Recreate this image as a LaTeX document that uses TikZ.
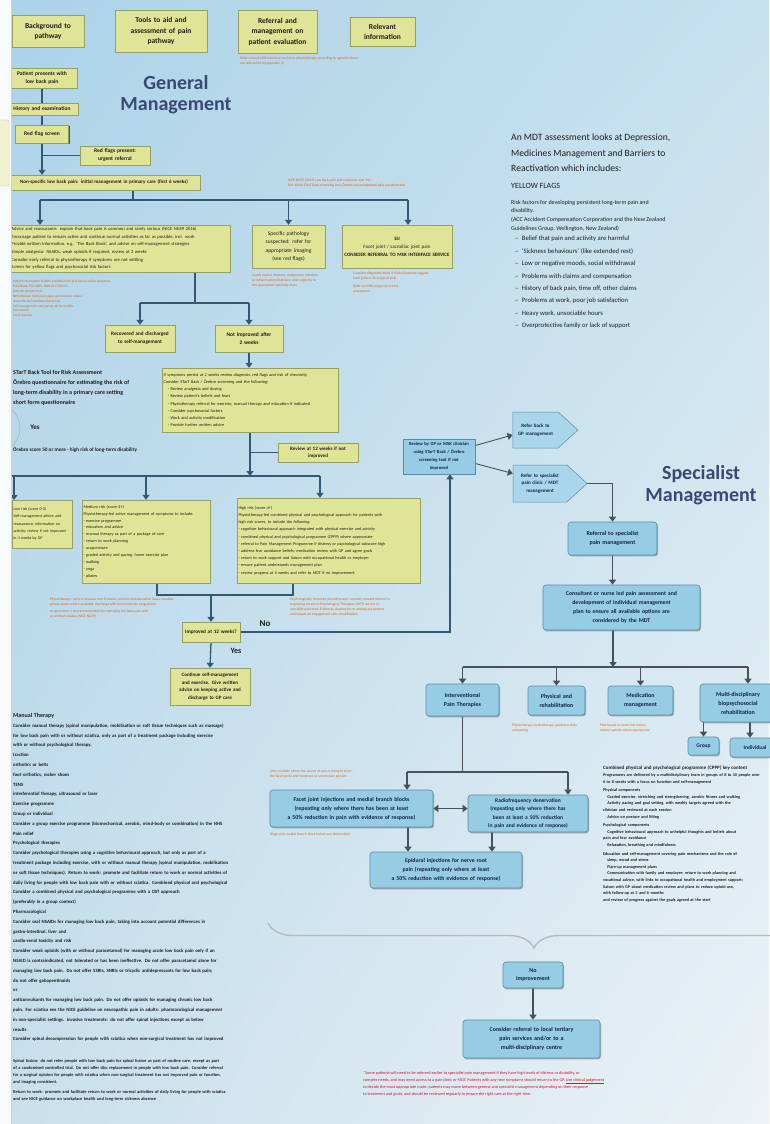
\documentclass[tikz,border=0pt]{standalone}
\usepackage{fontspec}
\setmainfont{Carlito}
\usetikzlibrary{arrows.meta,shadows,shadings,shapes.symbols,decorations.pathreplacing}

\pgfdeclarelayer{bg}
\pgfdeclarelayer{lines}
\pgfdeclarelayer{front}
\pgfsetlayers{bg,lines,main,front}

\definecolor{bgtl}{RGB}{172,210,232}
\definecolor{bgtr}{RGB}{198,225,238}
\definecolor{bgbl}{RGB}{200,224,237}
\definecolor{bgbr}{RGB}{236,242,246}
\definecolor{yfill}{RGB}{224,228,150}
\definecolor{yedge}{RGB}{150,160,95}
\definecolor{yshade}{RGB}{40,70,85}
\definecolor{bfill}{RGB}{150,204,228}
\definecolor{pfill}{RGB}{170,214,236}
\definecolor{bedge}{RGB}{90,140,165}
\definecolor{cgline}{RGB}{50,88,115}
\definecolor{csline}{RGB}{72,80,90}
\definecolor{titlec}{RGB}{58,72,118}
\definecolor{refc}{RGB}{222,100,20}
\definecolor{inkc}{RGB}{30,30,30}
\definecolor{navy}{RGB}{20,35,70}
\definecolor{redc}{RGB}{210,20,50}

\newcommand\fsz[2]{\fontsize{#1}{#2}\selectfont}

\tikzstyle{ybox} = [fill=yfill, draw=yedge, line width=0.4pt, inner sep=1.5pt, align=center, text=inkc,
    drop shadow={shadow xshift=1.4pt, shadow yshift=-1.4pt, fill=yshade, opacity=0.9}]
\tikzstyle{bbox} = [fill=bfill, draw=bedge, line width=0.6pt, rounded corners=3pt, inner sep=1.5pt, align=center, text=navy,
    drop shadow={shadow xshift=1pt, shadow yshift=-1.4pt, fill=black!60, opacity=0.5}]
\tikzstyle{arrowbox} = [shape=signal, signal to=east, signal pointer angle=85, fill=pfill, draw=bedge, line width=0.5pt,
    inner sep=1.5pt, align=center, text=navy]
\tikzstyle{gline} = [draw=cgline, line width=1.3pt]
\tikzstyle{garr} = [gline, -{Triangle[width=7pt,length=5pt]}]
\tikzstyle{sline} = [draw=csline, line width=1.3pt]
\tikzstyle{sarr} = [sline, -{Triangle[width=7pt,length=5pt]}]
\tikzstyle{refs} = [anchor=north west, inner sep=0pt, align=left, text=refc, font=\fsz{3.6}{5}]
\tikzstyle{bodytext} = [anchor=north west, inner sep=0pt, align=left, text=inkc]

\begin{document}
\begin{tikzpicture}[x=1pt,y=-1pt]
\useasboundingbox (0,0) rectangle (769,1124);
\begin{pgfonlayer}{bg}
\shade[upper left=bgtl, upper right=bgtr, lower left=bgbl, lower right=bgbr] (0,0) rectangle (769,1124);
\end{pgfonlayer}

% general management
\node[ybox, text width=69pt, minimum height=32pt, font=\fsz{7.5}{10}\bfseries] (bgpath) at (48,31) {Background to\\pathway};
\node[ybox, text width=89pt, minimum height=42pt, font=\fsz{7.5}{10.5}\bfseries] (tools) at (161,31) {Tools to aid and\\assessment of pain\\pathway};
\node[ybox, text width=76pt, minimum height=43pt, font=\fsz{7.5}{10.5}\bfseries] (refer) at (277.5,31.5) {Referral and\\management on\\patient evaluation};
\node[ybox, text width=62pt, minimum height=29pt, font=\fsz{7.5}{10}\bfseries] (relinfo) at (382.5,31.5) {Relevant\\information};
\node[refs] (refs1) at (240,57) {Refer to local MSK interface service or physiotherapy according to agreed criteria\\see referral form (appendix 2)};

\node[font=\fsz{20}{21}\bfseries, text=titlec, align=center] (gmtitle) at (176,95) {General\\Management};

\node[ybox, text width=67pt, minimum height=20pt, font=\fsz{5.5}{8}\bfseries] (pres) at (42,78) {Patient presents with\\low back pain};
\node[ybox, text width=69pt, minimum height=12pt, font=\fsz{5.5}{8}\bfseries] (hist) at (42,109) {History and examination};
\node[ybox, text width=50pt, minimum height=18pt, font=\fsz{5.5}{8}\bfseries] (redscr) at (42,134) {Red flag screen};
\node[ybox, text width=67pt, minimum height=19pt, font=\fsz{5.5}{8}\bfseries] (redpos) at (115,155.5) {Red flags present:\\urgent referral};
\node[ybox, text width=189pt, minimum height=15pt, font=\fsz{5}{7}\bfseries] (nslbp) at (104,182.5) {Non-specific low back pain: initial management in primary care (first 6 weeks)};
\node[refs] (refs2) at (288,179) {NICE NG59 (2016) Low back pain and sciatica in over 16s\\Ref: Keele STarT Back screening tool, Örebro musculoskeletal pain questionnaire};

\node[ybox, text width=217pt, minimum height=47pt, font=\fsz{4.6}{7.6}, align=left] (adv) at (120,248.5) {Advice and reassurance: explain that back pain is common and rarely serious (NICE NG59 2016)\\Encourage patient to remain active and continue normal activities as far as possible, incl. work\\Provide written information, e.g. `The Back Book', and advise on self-management strategies\\Simple analgesia: NSAIDs, weak opioids if required, review at 2 weeks\\Consider early referral to physiotherapy if symptoms are not settling\\Screen for yellow flags and psychosocial risk factors};
\node[refs, font=\fsz{3.4}{4.9}] (refs3) at (13,280) {Patient information leaflets available from practice or online resources\\Back Book, TSO 2002, ISBN 0117029491\\Arthritis Research UK\\NHS Choices: back pain pages and exercise videos\\www.nhs.uk/conditions/back-pain\\Self-management and pacing advice leaflets\\Pain toolkit\\Local exercise};
\node[ybox, text width=70pt, minimum height=43pt, font=\fsz{5.5}{8.5}] (spec) at (288.5,246.5) {Specific pathology\\suspected: refer for\\appropriate imaging\\(see red flags)};
\node[refs] (refs4) at (252,274) {Cauda equina, fracture, malignancy, infection\\or inflammatory disorders: refer urgently to\\the appropriate specialty team};
\node[ybox, text width=107pt, minimum height=43pt, font=\fsz{5}{8}] (sij) at (397,246.5) {\textbf{SIJ}\\Facet joint / sacroiliac joint pain\\\textbf{CONSIDER REFERRAL TO MSK INTERFACE SERVICE}};
\node[refs] (refs5) at (353,272) {Consider diagnostic block if clinical features suggest\\facet joint or SIJ origin of pain\\[3pt]Refer via MSK triage service for\\assessment};

\node[ybox, text width=67pt, minimum height=27pt, font=\fsz{5.2}{8}\bfseries] (rec) at (140,338.5) {Recovered and discharged\\to self-management};
\node[ybox, text width=65pt, minimum height=27pt, font=\fsz{5.5}{8}\bfseries] (notimp) at (249,338.5) {Not improved after\\2 weeks};
\node[ybox, text width=173pt, minimum height=64pt, font=\fsz{4.3}{7.2}, align=left] (six) at (250,400) {If symptoms persist at 2 weeks review diagnosis, red flags and risk of chronicity\\Consider STarT Back / Örebro screening and the following:\\\quad - Review analgesia and dosing\\\quad - Review patient's beliefs and fears\\\quad - Physiotherapy referral for exercise, manual therapy and education if indicated\\\quad - Consider psychosocial factors\\\quad - Work and activity modification\\\quad - Provide further written advice};
\node[ybox, text width=77pt, minimum height=19pt, font=\fsz{5}{7.5}\bfseries] (review12) at (318,452.5) {Review at 12 weeks if not\\improved};

\node[bodytext, font=\fsz{6}{10}\bfseries] (starttxt) at (13,370) {STarT Back Tool for Risk Assessment\\Örebro questionnaire for estimating the risk of\\long-term disability in a primary care setting\\short form questionnaire};
\node[font=\fsz{7}{8}\bfseries, text=inkc] (startyes) at (35,427) {Yes};
\node[bodytext, font=\fsz{5.2}{8}\bfseries] (startscore) at (13,447) {Örebro score 50 or more - high risk of long-term disability};

\node[ybox, text width=57pt, minimum height=48pt, font=\fsz{4}{7.4}, align=left] (low) at (42,524) {Low risk (score 0-3)\\Self-management advice and\\reassurance, information on\\activity; review if not improved\\in 4 weeks by GP};
\node[ybox, text width=125pt, minimum height=83pt, font=\fsz{4.2}{6.9}, align=left] (med) at (146,541.5) {Medium risk (score 4+)\\Physiotherapy-led active management of symptoms to include:\\- exercise programme\\- education and advice\\- manual therapy as part of a package of care\\- return to work planning\\- acupuncture\\- graded activity and pacing, home exercise plan\\- walking\\- yoga\\- pilates};
\node[ybox, text width=180pt, minimum height=85pt, font=\fsz{4.2}{7.2}, align=left] (high) at (328.5,540.5) {High risk (score 4+)\\Physiotherapy-led combined physical and psychological approach for patients with\\high risk scores, to include the following:\\- cognitive behavioural approach integrated with physical exercise and activity\\- combined physical and psychological programme (CPPP) where appropriate\\- referral to Pain Management Programme if distress or psychological subscore high\\- address fear avoidance beliefs; medication review with GP and agree goals\\- return to work support and liaison with occupational health or employer\\- ensure patient understands management plan\\- review progress at 6 weeks and refer to MDT if no improvement};
\node[refs] (refs6) at (50,598) {Physiotherapy: up to 6 sessions over 8 weeks, exercise and education focus, consider\\group classes where available, discharge with home exercise programme\\[2pt]Acupuncture is not recommended for managing low back pain with\\or without sciatica (NICE NG59)};
\node[refs] (refs7) at (290,598) {Psychologically informed physiotherapy: consider onward referral to\\Improving Access to Psychological Therapies (IAPT) service or\\specialist pain team if distress, depression or anxiety are present\\and impact on engagement with rehabilitation};

\node[ybox, text width=55pt, minimum height=20pt, font=\fsz{5.2}{7}\bfseries] (improved) at (211,632) {Improved at 12 weeks?};
\node[font=\fsz{9}{10}\bfseries, text=inkc] (nolab) at (265,624) {No};
\node[font=\fsz{8}{9}\bfseries, text=inkc] (yeslab) at (236,651) {Yes};
\node[ybox, text width=77pt, minimum height=37pt, font=\fsz{5}{7.5}\bfseries] (cont) at (210,686.5) {Continue self-management\\and exercise. Give written\\advice on keeping active and\\discharge to GP care};

\node[bodytext, text width=256pt, font=\fsz{4.8}{9.8}\bfseries] (manual) at (13,713) {{\fsz{6}{9.8}Manual Therapy}\\
Consider manual therapy (spinal manipulation, mobilisation or soft tissue techniques such as massage)\\
for low back pain with or without sciatica, only as part of a treatment package including exercise\\
with or without psychological therapy.\\
traction\\
orthotics or belts\\
foot orthotics, rocker shoes\\
TENS\\
interferential therapy, ultrasound or laser\\
Exercise programme\\
Group or individual\\
Consider a group exercise programme (biomechanical, aerobic, mind-body or combination) in the NHS\\
Pain relief\\
Psychological therapies\\
Consider psychological therapies using a cognitive behavioural approach, but only as part of a\\
treatment package including exercise, with or without manual therapy (spinal manipulation, mobilisation\\
or soft tissue techniques). Return to work: promote and facilitate return to work or normal activities of\\
daily living for people with low back pain with or without sciatica. Combined physical and psychological\\
Consider a combined physical and psychological programme with a CBT approach\\
(preferably in a group context)\\
Pharmacological\\
Consider oral NSAIDs for managing low back pain, taking into account potential differences in\\
gastro-intestinal, liver and\\
cardio-renal toxicity and risk\\
Consider weak opioids (with or without paracetamol) for managing acute low back pain only if an\\
NSAID is contraindicated, not tolerated or has been ineffective. Do not offer paracetamol alone for\\
managing low back pain. Do not offer SSRIs, SNRIs or tricyclic antidepressants for low back pain;\\
do not offer gabapentinoids\\
or\\
anticonvulsants for managing low back pain. Do not offer opioids for managing chronic low back\\
pain. For sciatica see the NICE guideline on neuropathic pain in adults: pharmacological management\\
in non-specialist settings. Invasive treatments: do not offer spinal injections except as below\\
results\\
Consider spinal decompression for people with sciatica when non-surgical treatment has not improved};
\node[bodytext, text width=256pt, font=\fsz{4.4}{7.2}\bfseries] (fusion) at (13,1059) {Spinal fusion: do not refer people with low back pain for spinal fusion as part of routine care, except as part\\
of a randomised controlled trial. Do not offer disc replacement in people with low back pain. Consider referral\\
for a surgical opinion for people with sciatica when non-surgical treatment has not improved pain or function,\\
and imaging consistent.\\[2pt]
Return to work: promote and facilitate return to work or normal activities of daily living for people with sciatica\\
and see NICE guidance on workplace health and long-term sickness absence};

% yellow flags
\node[bodytext, font=\fsz{9.6}{15.5}] (mdt) at (511,134) {An MDT assessment looks at Depression,\\Medicines Management and Barriers to\\Reactivation which includes:};
\node[bodytext, font=\fsz{8}{10}] (yflags) at (511,183) {YELLOW FLAGS};
\node[bodytext, font=\fsz{6}{8.5}] (riskf) at (511,200) {Risk factors for developing persistent long-term pain and\\disability.};
\node[bodytext, font=\fsz{6}{8.5}] (acc) at (511,217) {(ACC Accident Compensation Corporation and the New Zealand\\Guidelines Group, Wellington, New Zealand)};
\node[bodytext, font=\fsz{6.7}{12.4}] (flaglist) at (515,236) {--\enspace Belief that pain and activity are harmful\\--\enspace `Sickness behaviours' (like extended rest)\\--\enspace Low or negative moods, social withdrawal\\--\enspace Problems with claims and compensation\\--\enspace History of back pain, time off, other claims\\--\enspace Problems at work, poor job satisfaction\\--\enspace Heavy work, unsociable hours\\--\enspace Overprotective family or lack of support};

% specialist management
\node[font=\fsz{20}{22}\bfseries, text=titlec, align=center] (smtitle) at (701,485) {Specialist\\Management};
\node[bbox, sharp corners, text width=69pt, minimum height=35pt, font=\fsz{4.6}{8}\bfseries] (revgp) at (439,456.5) {Review by GP or MSK clinician\\using STarT Back / Örebro\\screening tool if not\\improved};
\node[arrowbox, text width=40pt, minimum width=65pt, minimum height=36pt, font=\fsz{5}{7.5}\bfseries] (pent1) at (535.5,430) {Refer back to\\GP management};
\node[arrowbox, text width=47pt, minimum width=74pt, minimum height=37pt, font=\fsz{5}{7.5}\bfseries] (pent2) at (540,483.5) {Refer to specialist\\pain clinic / MDT\\management};
\node[bbox, text width=86pt, minimum height=33pt, font=\fsz{6}{8.5}\bfseries] (specref) at (612.5,538.5) {Referral to specialist\\pain management};
\node[bbox, text width=154pt, minimum height=45pt, font=\fsz{5.8}{9}\bfseries] (cons) at (621.5,607.5) {Consultant or nurse led pain assessment and\\development of individual management\\plan to ensure all available options are\\considered by the MDT};
\node[bbox, text width=70pt, minimum height=32pt, font=\fsz{6}{9}\bfseries] (interv) at (462.5,700) {Interventional\\Pain Therapies};
\node[bbox, text width=54pt, minimum height=29pt, font=\fsz{6}{9}\bfseries] (physrehab) at (556.5,700.5) {Physical and\\rehabilitation};
\node[bbox, text width=62pt, minimum height=29pt, font=\fsz{6}{9}\bfseries] (medman) at (640.5,700.5) {Medication\\management};
\node[bbox, text width=73pt, minimum height=38pt, font=\fsz{6}{9}\bfseries] (mdr) at (738,703) {Multi-disciplinary\\biopsychosocial\\rehabilitation};
\node[bbox, text width=28pt, minimum height=18pt, font=\fsz{5.5}{7}\bfseries] (group) at (703.5,746) {Group};
\node[bbox, text width=47pt, minimum height=19pt, font=\fsz{5.5}{7}\bfseries] (indiv) at (755,747.5) {Individual};
\node[refs] (refs8) at (512,724) {Physiotherapy, hydrotherapy, graded activity\\and pacing};
\node[refs] (refs9) at (600,724) {Pharmacist or nurse-led review\\reduce opioids where appropriate};
\node[refs] (refs10) at (270,770) {Only consider where the source of pain is thought to be\\the facet joints and moderate or severe pain persists};
\node[bbox, text width=160pt, minimum height=37pt, font=\fsz{5.8}{9}\bfseries] (boxl) at (351.5,808.5) {Facet joint injections and medial branch blocks\\(repeating only where there has been at least\\a 50\% reduction in pain with evidence of response)};
\node[refs] (refs11) at (270,833) {Diagnostic medial branch block before any denervation};
\node[bbox, text width=117pt, minimum height=37pt, font=\fsz{5.5}{8.2}\bfseries] (boxr) at (528,813.5) {Radiofrequency denervation\\(repeating only where there has\\been at least a 50\% reduction\\in pain and evidence of response)};
\node[bbox, text width=149pt, minimum height=36pt, font=\fsz{5.8}{9}\bfseries] (boxb) at (446,870) {Epidural injections for nerve root\\pain (repeating only where at least\\a 50\% reduction with evidence of response)};

\node[bodytext, text width=175pt, font=\fsz{4.2}{6.6}\bfseries] (cppp) at (603,766) {{\fsz{5}{6.6}Combined physical and psychological programme (CPPP) key content}\\
Programmes are delivered by a multidisciplinary team in groups of 8 to 10 people over\\
6 to 8 weeks with a focus on function and self-management\\[2pt]
Physical components\\
\quad Graded exercise, stretching and strengthening, aerobic fitness and walking\\
\quad Activity pacing and goal setting, with weekly targets agreed with the\\
clinician and reviewed at each session\\
\quad Advice on posture and lifting\\[2pt]
Psychological components\\
\quad Cognitive behavioural approach to unhelpful thoughts and beliefs about\\
pain and fear avoidance\\
\quad Relaxation, breathing and mindfulness\\[2pt]
Education and self-management covering pain mechanisms and the role of\\
\quad sleep, mood and stress\\
\quad Flare-up management plans\\
\quad Communication with family and employer; return to work planning and\\
vocational advice, with links to occupational health and employment support;\\
liaison with GP about medication review and plans to reduce opioid use,\\
with follow-up at 3 and 6 months\\
and review of progress against the goals agreed at the start};

\draw[decorate, decoration={brace, mirror, amplitude=25pt}, draw=gray!55, line width=1.4pt] (268,923) -- (800,923);
\node[bbox, text width=57pt, minimum height=26pt, font=\fsz{6}{8.5}\bfseries] (noimp) at (533,975) {No\\improvement};
\node[bbox, text width=134pt, minimum height=38pt, font=\fsz{6}{9}\bfseries] (consider) at (531.5,1039) {Consider referral to local tertiary\\pain services and/or to a\\multi-disciplinary centre};
\node[bodytext, text=redc, font=\fsz{4.2}{7}] (redtext) at (363,1071) {*Some patients will need to be referred earlier to specialist pain management if they have high levels of distress or disability, or\\
complex needs, and may need access to a pain clinic or MDT. Patients with any new symptoms should return to the GP. \underline{Use clinical judgement}\\
to decide the most appropriate route; patients may move between general and specialist management depending on their response\\
to treatment and goals, and should be reviewed regularly to ensure the right care at the right time.};

% connectors
\begin{pgfonlayer}{lines}
\draw[garr] (pres.south) -- (pres.south |- nslbp.north);
\draw[gline] (redpos.west) -- (redpos.west -| pres.south);
\coordinate (b1) at (133,200);
\coordinate (b1l) at (40,200);
\coordinate (b1r) at (408,200);
\draw[gline] (nslbp.south -| b1) -- (b1);
\draw[gline] (b1l) -- (b1r);
\draw[garr] (b1l) -- (b1l |- adv.north);
\draw[garr] (spec.north |- b1) -- (spec.north);
\draw[garr] (b1r) -- (b1r |- sij.north);

\coordinate (b2) at (195,303);
\coordinate (b2l) at (140,303);
\coordinate (b2r) at (249,303);
\draw[gline] (adv.south -| b2) -- (b2);
\draw[gline] (b2l) -- (b2r);
\draw[garr] (b2l) -- (rec.north);
\draw[garr] (b2r) -- (notimp.north);
\draw[garr] (notimp.south) -- (notimp.south |- six.north);

\coordinate (b3) at (250,476);
\coordinate (b3l) at (-5,476);
\coordinate (b3r) at (320,476);
\draw[garr] (six.south) -- (b3);
\draw[gline] (six.south |- review12.west) -- (review12.west);
\draw[gline] (b3l) -- (b3r);
\draw[garr] (14,476) -- (14,500);
\draw[garr] (med.north |- b3) -- (med.north);
\draw[garr] (b3r) -- (b3r |- high.north);

\coordinate (b4l) at (157,595);
\coordinate (b4r) at (293,595);
\draw[gline] (b4l |- med.south) -- (b4l) -- (b4r) -- (b4r |- high.south);
\draw[garr] (improved.north |- b4l) -- (improved.north);
\draw[garr] (improved.south) -- (cont.north);
\draw[garr] (improved.east) -| ([xshift=11pt]revgp.south);

\draw[gray!55, line width=0.8pt] (-5,428) circle (25);

\draw[sarr, line width=0.9pt] ([yshift=11pt]revgp.east) -- ([yshift=-5pt]pent1.west);
\draw[sarr, line width=0.9pt] ([yshift=-7pt]revgp.east) -- ([yshift=10pt]pent2.west);
\draw[sarr] (pent2.east) -| (specref.north);
\draw[sarr] (specref.south) -- (specref.south |- cons.north);
\coordinate (sb) at (613,667);
\coordinate (sbl) at (462.5,667);
\coordinate (sbr) at (748,667);
\draw[sarr] (sb |- cons.south) -- (sb);
\draw[sline] (sbl) -- (sbr);
\draw[sarr] (sbl) -- (interv.north);
\draw[sarr] (physrehab.north |- sb) -- (physrehab.north);
\draw[sarr] (medman.north |- sb) -- (medman.north);
\draw[sarr] (sbr) -- (sbr |- mdr.north);
\draw[sarr] (group.north |- mdr.south) -- (group.north);
\draw[sarr] ([xshift=-5pt]indiv.north |- mdr.south) -- ([xshift=-5pt]indiv.north);

\coordinate (ib) at (462.5,772);
\coordinate (ibl) at (407,772);
\coordinate (ibr) at (568,772);
\draw[sline] (interv.south) -- (ib);
\draw[sline] (ibl) -- (ibr);
\draw[sarr] (ibl) -- (ibl |- boxl.north);
\draw[sarr] (ibr) -- (ibr |- boxr.north);
\draw[sline, {Triangle[width=7pt,length=5pt]}-{Triangle[width=7pt,length=5pt]}] (boxl.east) -- (boxl.east -| boxr.west);
\draw[sarr] ([xshift=56.5pt]boxl.south) -- ([xshift=56.5pt]boxl.south |- boxb.north);
\draw[sarr] ([xshift=-36pt]boxr.south) -- ([xshift=-36pt]boxr.south |- boxb.north);
\draw[sarr] (noimp.south) -- (noimp.south |- consider.north);
\end{pgfonlayer}

\begin{pgfonlayer}{front}
\fill[white!90!bgtl] (-2,-2) rectangle (11,1126);
\draw[gray!35, line width=0.6pt] (11,-2) -- (11,1126);
\draw[fill=yfill!45!white, draw=gray!45, rounded corners=2pt] (-5,120) rectangle (9,186);
\end{pgfonlayer}
\end{tikzpicture}
\end{document}
